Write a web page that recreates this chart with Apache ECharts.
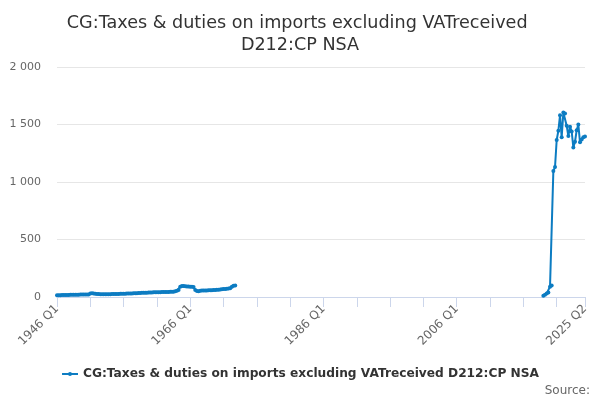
<!DOCTYPE html>
<html>
<head>
<meta charset="utf-8">
<script src="https://cdn.jsdelivr.net/npm/echarts@6/dist/echarts.min.js"></script>
<style>html,body{margin:0;padding:0;background:#fff}#c{width:600px;height:400px}</style>
</head>
<body>
<div id="c"></div>
<script>
var chartTitle = 'CG:Taxes & duties on imports excluding VATreceived \nD212:CP NSA';
var seriesName = 'CG:Taxes & duties on imports excluding VATreceived D212:CP NSA';
var firstYear = 1946;
var lastYear = 2025, lastQuarter = 2;
// quarterly values from 1946 Q1
var earlyValues = [
  15,16,16,17,17,18,18,18,19,19,19,20,20,20,21,21,21,22,22,22,
  30,32,31,29,27,26,25,25,
  24,24,25,25,25,26,26,27,27,27,28,28,29,29,30,30,31,31,32,32,
  33,34,35,36,37,38,38,39,40,40,41,41,42,42,42,43,43,43,44,44,45,45,46,
  50,55,60,
  90,95,95,93,92,92,90,90,88,
  60,52,50,
  55,56,56,57,57,58,58,59,60,60,62,63,65,
  68,70,70,72,74,76,
  90,98,100
];
// quarterly values from 2019 Q1
var lateStartYear = 2019;
var lateValues = [
  10,20,30,40,90,100,
  1095,1130,1365,1445,1580,1390,1605,1595,1490,1400,1480,1440,1300,1350,1450,1500,1345,1370,1390,1395
];

var categories = [];
for (var y = firstYear; y <= lastYear; y++) {
  for (var q = 1; q <= 4; q++) {
    if (y === lastYear && q > lastQuarter) break;
    categories.push(y + ' Q' + q);
  }
}
var data = categories.map(function(){ return null; });
earlyValues.forEach(function(v, i){ data[i] = v; });
var lateStart = (lateStartYear - firstYear) * 4;
lateValues.forEach(function(v, i){ data[lateStart + i] = v; });
var lastIdx = categories.length - 1;

var chart = echarts.init(document.getElementById('c'));
chart.setOption({
  animation: false,
  textStyle: { fontFamily: 'DejaVu Sans' },
  title: {
    text: chartTitle,
    left: 295,
    top: 7,
    textAlign: 'center',
    textStyle: { fontSize: 17.6, fontWeight: 'normal', color: '#333', lineHeight: 22, fontFamily: 'DejaVu Sans' }
  },
  legend: {
    bottom: 15,
    left: 'center',
    itemWidth: 16,
    itemHeight: 5,
    itemGap: 6,
    textStyle: { fontSize: 12.2, fontWeight: 'bold', color: '#333', fontFamily: 'DejaVu Sans' }
  },
  grid: { left: 57, right: 15, top: 67, bottom: 103, containLabel: false },
  xAxis: {
    type: 'category',
    data: categories,
    boundaryGap: false,
    axisLine: { lineStyle: { color: '#ccd6eb' } },
    axisTick: {
      length: 10,
      lineStyle: { color: '#ccd6eb' },
      interval: function(i){ return i % 20 === 0 || i === lastIdx; }
    },
    axisLabel: {
      rotate: 45,
      fontSize: 12,
      color: '#666',
      margin: 10,
      interval: function(i){ return i % 80 === 0 || i === lastIdx; }
    }
  },
  yAxis: {
    type: 'value',
    min: 0,
    max: 2000,
    interval: 500,
    axisLine: { show: false },
    axisTick: { show: false },
    splitLine: { lineStyle: { color: '#e6e6e6' } },
    axisLabel: {
      fontSize: 11,
      color: '#666',
      margin: 16,
      formatter: function(v){ return String(v).replace(/\B(?=(\d{3})+(?!\d))/g, ' '); }
    }
  },
  series: [{
    name: seriesName,
    type: 'line',
    data: data,
    connectNulls: false,
    color: '#0c7cc2',
    lineStyle: { width: 2 },
    symbol: 'circle',
    symbolSize: 4,
    showSymbol: true,
    showAllSymbol: true
  }],
  graphic: [{
    type: 'text',
    right: 10,
    bottom: 3,
    style: { text: 'Source:', fontSize: 12, fill: '#666', fontFamily: 'DejaVu Sans' }
  }]
});
</script>
</body>
</html>
